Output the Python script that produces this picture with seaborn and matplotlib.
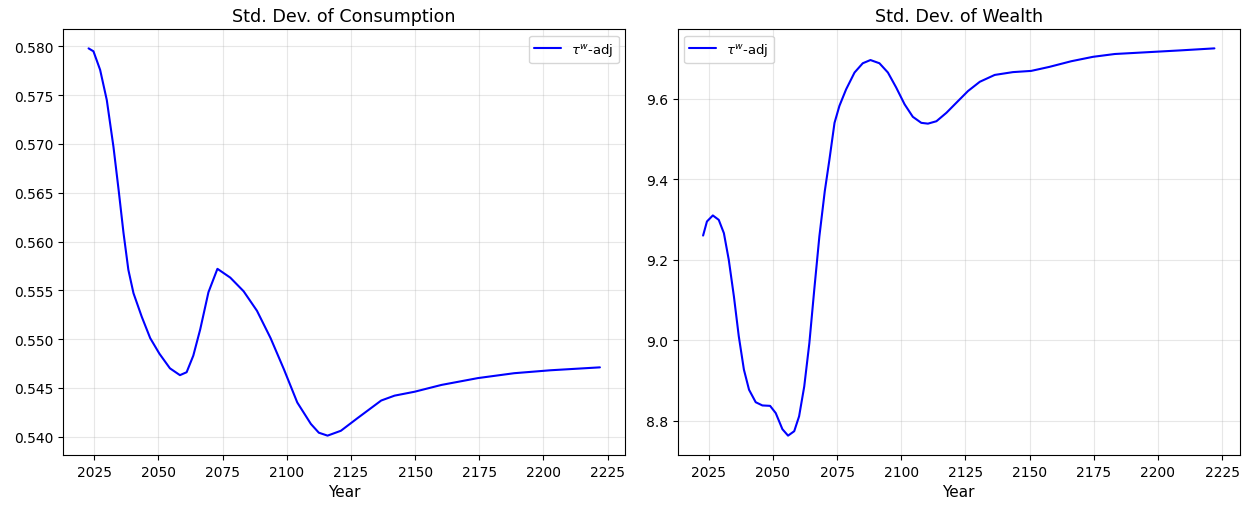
import matplotlib
matplotlib.use("Agg")
import matplotlib.pyplot as plt
import matplotlib.ticker as mticker
import seaborn as sns
import pandas as pd

# Std. Dev. of Consumption (tau^w-adj)
cons_years = [2022.8, 2024.7, 2027.3, 2029.9, 2032.5, 2034.5, 2036.4, 2038.3, 2040.3, 2043.5,
              2046.8, 2050.4, 2054.5, 2058.4, 2061.0, 2063.6, 2066.3, 2069.5, 2073.0, 2078.0,
              2083.2, 2088.4, 2093.7, 2098.9, 2104.1, 2109.4, 2112.5, 2115.9, 2121.1, 2127.6,
              2136.8, 2142.0, 2149.8, 2160.3, 2174.5, 2188.6, 2202.7, 2222.0]
cons_vals = [0.5798, 0.5795, 0.5776, 0.5745, 0.5697, 0.5653, 0.5609, 0.5571, 0.5547, 0.5523,
             0.5501, 0.5485, 0.5470, 0.5463, 0.5466, 0.5483, 0.5510, 0.5548, 0.5572, 0.5563,
             0.5549, 0.5529, 0.5501, 0.5469, 0.5435, 0.5413, 0.5404, 0.5401, 0.5406, 0.5419,
             0.5437, 0.5442, 0.5446, 0.5453, 0.5460, 0.5465, 0.5468, 0.5471]

# Std. Dev. of Wealth (tau^w-adj)
wealth_years = [2022.8, 2024.3, 2026.6, 2028.9, 2030.9, 2032.8, 2034.8, 2036.7, 2038.7, 2040.7,
                2043.3, 2045.9, 2048.9, 2051.1, 2053.7, 2055.9, 2058.3, 2060.2, 2062.2, 2064.2,
                2066.1, 2068.1, 2070.2, 2072.0, 2074.0, 2075.9, 2078.5, 2081.8, 2085.0, 2088.0,
                2091.5, 2094.8, 2098.0, 2101.3, 2104.5, 2107.8, 2110.4, 2113.7, 2117.6, 2122.1,
                2126.0, 2130.6, 2136.4, 2143.5, 2150.6, 2157.7, 2166.2, 2174.7, 2183.2, 2194.6,
                2208.8, 2222.0]
wealth_vals = [9.260, 9.295, 9.310, 9.299, 9.266, 9.200, 9.109, 9.010, 8.927, 8.877,
               8.846, 8.838, 8.837, 8.819, 8.779, 8.763, 8.774, 8.811, 8.885, 8.993,
               9.125, 9.258, 9.370, 9.448, 9.540, 9.582, 9.623, 9.665, 9.688, 9.696,
               9.688, 9.665, 9.628, 9.586, 9.555, 9.540, 9.538, 9.544, 9.565, 9.594,
               9.619, 9.642, 9.659, 9.666, 9.669, 9.679, 9.693, 9.704, 9.711, 9.715,
               9.720, 9.725]

label = r"$\tau^w$-adj"

df_c = pd.DataFrame({"Year": cons_years, "val": cons_vals})
df_w = pd.DataFrame({"Year": wealth_years, "val": wealth_vals})

sns.set_style("white")
plt.rcParams["font.family"] = ["DejaVu Sans"]
plt.rcParams.update({
    "text.color": "black",
    "axes.labelcolor": "black",
    "xtick.color": "black",
    "ytick.color": "black",
    "grid.color": "#b0b0b0",
})

fig, axes = plt.subplots(1, 2, figsize=(12.49, 5.06), dpi=100)

for ax, df, title, loc in [(axes[0], df_c, "Std. Dev. of Consumption", "upper right"),
                           (axes[1], df_w, "Std. Dev. of Wealth", "upper left")]:
    sns.lineplot(data=df, x="Year", y="val", ax=ax, color="blue", linewidth=1.5, label=label)
    ax.set_title(title, fontsize=12.6, color="black")
    ax.set_xlabel("Year", fontsize=11)
    ax.set_ylabel("")
    ax.grid(True, alpha=0.3, color="#b0b0b0", linewidth=0.8)
    ax.set_xticks([2025, 2050, 2075, 2100, 2125, 2150, 2175, 2200, 2225])
    ax.tick_params(axis="both", labelsize=10, left=True, bottom=True, length=3.5, width=0.8,
                   colors="black")
    for s in ax.spines.values():
        s.set_visible(True)
        s.set_color("black")
        s.set_linewidth(0.8)
    ax.legend(loc=loc, fontsize=9.5)

axes[0].set_yticks([0.540, 0.545, 0.550, 0.555, 0.560, 0.565, 0.570, 0.575, 0.580])
axes[0].yaxis.set_major_formatter(mticker.FormatStrFormatter("%.3f"))
axes[1].set_yticks([8.8, 9.0, 9.2, 9.4, 9.6])
axes[1].yaxis.set_major_formatter(mticker.FormatStrFormatter("%.1f"))

fig.subplots_adjust(left=63 / 1249, right=1240 / 1249, top=1 - 30 / 506,
                    bottom=1 - 456 / 506, wspace=52 / 562)
fig.savefig("out.png", dpi=100)
